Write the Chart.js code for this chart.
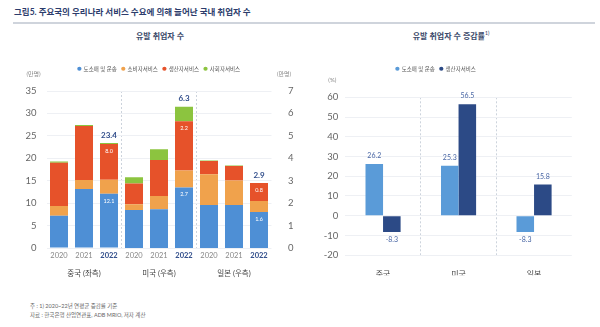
<!DOCTYPE html>
<html lang="ko">
<head>
<meta charset="utf-8">
<script src="https://cdn.jsdelivr.net/npm/chart.js@4"></script>
<style>
  html, body { margin: 0; padding: 0; background: #fff; }
  body { width: 600px; height: 327px; position: relative; overflow: hidden;
         font-family: Lato, 'Noto Sans CJK KR', sans-serif; }
  #head { position: absolute; left: 14px; top: 5px; font-size: 8.5px; font-weight: 700;
          color: #2c3c6c; white-space: nowrap; }
  #rule { position: absolute; left: 13px; top: 22px; width: 582px; height: 1.5px; background: #cfd4dc; }
  .sub { position: absolute; top: 30px; font-size: 8px; font-weight: 600; color: #3c4a6a;
         white-space: nowrap; transform: translateX(-50%); }
  .sub sup { font-size: 5px; }
  #cL { position: absolute; left: 0; top: 0; }
  #cR { position: absolute; left: 300px; top: 0; }
  .note { position: absolute; left: 30px; font-size: 5.5px; color: #666; white-space: nowrap; }
</style>
</head>
<body>
<div id="head">그림5. 주요국의 우리나라 서비스 수요에 의해 늘어난 국내 취업자 수</div>
<div id="rule"></div>
<div class="sub" style="left:160px">유발 취업자 수</div>
<div class="sub" style="left:451px">유발 취업자 수 증감률<sup>1)</sup></div>
<canvas id="cL" width="300" height="290"></canvas>
<canvas id="cR" width="300" height="290"></canvas>
<div class="note" style="top:302px">주 : 1) 2020~22년 연평균 증감률 기준</div>
<div class="note" style="top:311px">자료 : 한국은행 산업연관표, ADB MRIO, 저자 계산</div>
<script>
// ---- data: induced employment (left: 만명) ----
const years = ['2020', '2021', '2022', '2020', '2021', '2022', '2020', '2021', '2022'];
const groups = ['중국 (좌측)', '미국 (우측)', '일본 (우측)'];
const seriesNames = ['도소매 및 운송', '소비자서비스', '생산자서비스', '사회자서비스'];
// China on left axis (0-35), US and Japan on right axis (0-7)
const retail   = [7.2, 13.15, 12.1, 1.69, 1.73, 2.7, 1.92, 1.92, 1.6];
const consumer = [2.15, 2.0, 3.1, 0.26, 0.59, 0.75, 1.37, 1.09, 0.5];
const producer = [9.65, 12.05, 8.0, 0.93, 1.6, 2.2, 0.59, 0.65, 0.8];
const social   = [0.3, 0.2, 0.2, 0.27, 0.48, 0.65, 0.02, 0.02, 0.0];

// ---- data: growth rate (right: %) ----
const countries = ['중국', '미국', '일본'];
const rateNames = ['도소매 및 운송', '생산자서비스'];
const rateRetail   = [26.2, 25.3, -8.3];
const rateProducer = [-8.3, 56.5, 15.8];

const FONT = "Lato, 'Noto Sans CJK KR', sans-serif";
Chart.defaults.font.family = FONT;
Chart.defaults.color = '#666';
Chart.defaults.animation = false;

const seriesData = [retail, consumer, producer, social];
const seriesColors = ['#4e8fd5', '#f0a24c', '#e6522a', '#8cc43f'];
const LABEL_NAVY = '#2f4c8a';

// fixes the legend block height so the plot area lands where wanted
const legendHeight = (h) => ({
  id: 'legendHeight',
  afterInit(chart) {
    const lg = chart.legend;
    const fit = lg.fit;
    lg.fit = function () { fit.call(this); this.height = h; };
  }
});

// ---------- left chart ----------
const leftSets = [];
seriesData.forEach((arr, k) => {
  leftSets.push({ label: seriesNames[k], data: arr.map((v, i) => i < 3 ? v : null),
                  backgroundColor: seriesColors[k], yAxisID: 'yL' });
});
seriesData.forEach((arr, k) => {
  leftSets.push({ label: seriesNames[k], data: arr.map((v, i) => i >= 3 ? v : null),
                  backgroundColor: seriesColors[k], yAxisID: 'yR' });
});

const leftLabels = {
  id: 'leftLabels',
  afterDatasetsDraw(chart) {
    const ctx = chart.ctx;
    ctx.save();
    ctx.textAlign = 'center';
    ctx.textBaseline = 'middle';
    [2, 5, 8].forEach(i => {
      const base = i < 3 ? 0 : 4;
      [0, 2].forEach(k => {
        const el = chart.getDatasetMeta(base + k).data[i];
        ctx.fillStyle = '#fff';
        ctx.font = '5.5px ' + FONT;
        ctx.fillText(seriesData[k][i].toFixed(1), el.x, el.y + 7);
      });
      const top = chart.getDatasetMeta(base + 3).data[i];
      const total = seriesData.reduce((s, a) => s + a[i], 0);
      ctx.fillStyle = LABEL_NAVY;
      ctx.font = 'bold 8px ' + FONT;
      ctx.fillText(total.toFixed(1), top.x, top.y - 8);
    });
    ctx.restore();
  },
  afterDraw(chart) {
    const ctx = chart.ctx;
    const x = chart.scales.x, yL = chart.scales.yL, yR = chart.scales.yR;
    ctx.save();
    ctx.textAlign = 'center';
    ctx.textBaseline = 'middle';
    ctx.fillStyle = '#444';
    ctx.font = '7.5px ' + FONT;
    groups.forEach((g, j) => ctx.fillText(g, x.getPixelForValue(j * 3 + 1), 274));
    ctx.fillStyle = '#888';
    ctx.font = '6px ' + FONT;
    ctx.fillText('(만명)', yL.right - 13, chart.chartArea.top - 17);
    ctx.fillText('(만명)', yR.left + 12.5, chart.chartArea.top - 17);
    ctx.restore();
  }
};

new Chart(document.getElementById('cL'), {
  type: 'bar',
  data: { labels: years, datasets: leftSets },
  options: {
    responsive: false,
    layout: { padding: { top: 61, bottom: 22, left: 0, right: 0 } },
    datasets: { bar: { barPercentage: 0.72, categoryPercentage: 1 } },
    plugins: {
      tooltip: { enabled: false },
      legend: {
        position: 'top', fullSize: false,
        labels: { usePointStyle: true, pointStyle: 'circle', boxWidth: 3, boxHeight: 3,
                  padding: 5, font: { size: 5.5 }, color: '#555',
                  filter: item => item.datasetIndex < 4 }
      }
    },
    scales: {
      x: {
        stacked: true,
        border: { display: false, dash: [2, 2] },
        grid: { offset: true, drawTicks: false,
                color: c => (c.index === 3 || c.index === 6) ? '#ccd3dc' : 'transparent' },
        ticks: { padding: 3,
                 font: c => ({ size: 7.5, weight: c.index % 3 === 2 ? 'bold' : 'normal' }),
                 color: c => c.index % 3 === 2 ? LABEL_NAVY : '#888' },
        afterFit: s => { s.height = 20; }
      },
      yL: {
        position: 'left', stacked: true, min: 0, max: 35,
        border: { display: false },
        grid: { color: '#eef0f4', drawTicks: false },
        ticks: { stepSize: 5, padding: 10, font: { size: 9.5 }, color: '#666' },
        afterFit: s => { s.width = 46.5; }
      },
      yR: {
        position: 'right', stacked: true, min: 0, max: 7,
        border: { display: false },
        grid: { display: false },
        ticks: { stepSize: 1, padding: 8.5, font: { size: 9.5 }, color: '#666' },
        afterFit: s => { s.width = 28.5; }
      }
    }
  },
  plugins: [legendHeight(30), leftLabels]
});

// ---------- right chart ----------
const rateLabels = {
  id: 'rateLabels',
  afterDatasetsDraw(chart) {
    const ctx = chart.ctx;
    ctx.save();
    ctx.textAlign = 'center';
    ctx.textBaseline = 'middle';
    ctx.fillStyle = '#4a67a5';
    ctx.font = '7px ' + FONT;
    chart.data.datasets.forEach((ds, d) => {
      chart.getDatasetMeta(d).data.forEach((el, i) => {
        const v = ds.data[i];
        ctx.fillText(v.toFixed(1), el.x, v >= 0 ? el.y - 8 : el.y + 8);
      });
    });
    ctx.restore();
  },
  afterDraw(chart) {
    const ctx = chart.ctx;
    ctx.save();
    ctx.textAlign = 'center';
    ctx.textBaseline = 'middle';
    ctx.fillStyle = '#888';
    ctx.font = '6px ' + FONT;
    ctx.fillText('(%)', chart.scales.y.right - 13, chart.chartArea.top - 17);
    ctx.restore();
  }
};

new Chart(document.getElementById('cR'), {
  type: 'bar',
  data: {
    labels: countries,
    datasets: [
      { label: rateNames[0], data: rateRetail, backgroundColor: '#5a9bd8' },
      { label: rateNames[1], data: rateProducer, backgroundColor: '#2c4a86' }
    ]
  },
  options: {
    responsive: false,
    layout: { padding: { top: 61, bottom: 14.8, left: 0, right: 28.2 } },
    datasets: { bar: { barPercentage: 1, categoryPercentage: 0.465 } },
    plugins: {
      tooltip: { enabled: false },
      legend: {
        position: 'top', fullSize: true,
        labels: { usePointStyle: true, pointStyle: 'circle', boxWidth: 3, boxHeight: 3,
                  padding: 5, font: { size: 5.5 }, color: '#555' }
      }
    },
    scales: {
      x: {
        border: { display: false, dash: [2, 2] },
        grid: { offset: true, drawTicks: false,
                color: c => (c.index === 1 || c.index === 2) ? '#ccd3dc' : 'transparent' },
        ticks: { padding: 14, font: { size: 8 }, color: '#444' },
        afterFit: s => { s.height = 20; }
      },
      y: {
        min: -20, max: 60,
        border: { display: false },
        grid: { color: '#eef0f4', drawTicks: false },
        ticks: { stepSize: 10, padding: 7, font: { size: 9.5 }, color: '#666' },
        afterFit: s => { s.width = 45.3; }
      }
    }
  },
  plugins: [legendHeight(36.3), rateLabels]
});
</script>
</body>
</html>
